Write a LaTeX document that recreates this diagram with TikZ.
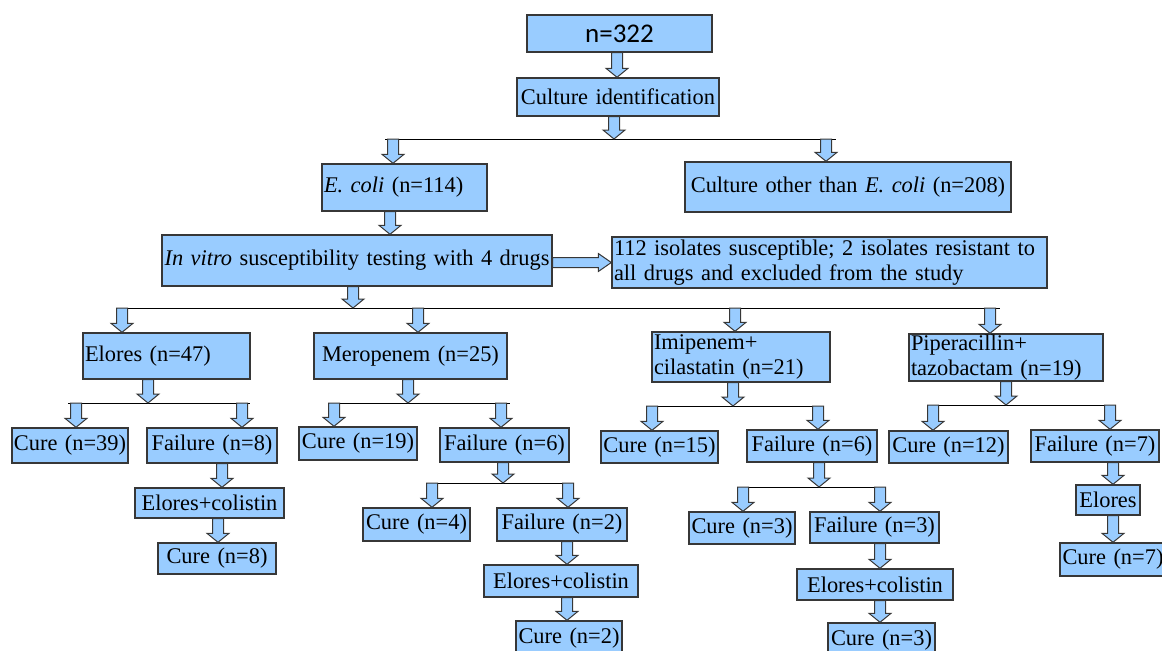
\documentclass[tikz,border=0pt]{standalone}
\usepackage{fontspec}
\setmainfont{Liberation Serif}
\newfontfamily\calibri{Carlito}
\usetikzlibrary{calc}

\definecolor{boxblue}{RGB}{153,204,255}
\definecolor{edgegray}{RGB}{55,55,55}

\tikzset{
  box/.style={draw=edgegray, fill=boxblue, line width=0.7pt, inner xsep=0pt, inner ysep=0pt,
    align=center, font=\fontsize{11.2}{12.4}\selectfont},
  leftbox/.style={box, inner xsep=1pt, align=left},
  fat/.style={draw=edgegray, fill=boxblue, line width=0.5pt},
  bar/.style={draw=black, line width=0.5pt}
}

% block arrow: x and start y from #1, tip y from #2
\newcommand{\varrow}[2]{%
  \draw[fat] let \p1=#1, \p2=#2 in
    (\x1-2.75pt,\y1) -- (\x1+2.75pt,\y1) -- (\x1+2.75pt,\y2+4.5pt) -- (\x1+5.5pt,\y2+4.5pt)
    -- (\x1,\y2) -- (\x1-5.5pt,\y2+4.5pt) -- (\x1-2.75pt,\y2+4.5pt) -- cycle;}

\begin{document}
\begin{tikzpicture}[x=0.5pt, y=-0.5pt]
  \useasboundingbox (0,0) rectangle (1162,650);

  % top of the chart
  \node[box, text width=92.5pt, minimum height=18.5pt, font=\calibri\fontsize{13.5}{15}\selectfont] (total) at (619.5,33.5) {n=322};
  \node[box, text width=101pt, minimum height=19pt] (cid) at (618,97) {Culture identification};
  \node[leftbox, text width=80.5pt, minimum height=23.5pt] (ecoli) at (404.5,187.5) {\textit{E. coli} (n=114)};
  \node[box, text width=163pt, minimum height=25pt] (other) at (848,187) {Culture other than \textit{E. coli} (n=208)};
  \node[box, text width=195pt, minimum height=25.5pt] (vitro) at (357,260.5) {\textit{In vitro} susceptibility testing with 4 drugs};
  \node[leftbox, text width=215.5pt, minimum height=25.5pt] (excl) at (829.5,262.5) {112 isolates susceptible; 2 isolates resistant to\\all drugs and excluded from the study};

  % the four drugs
  \node[leftbox, text width=81.5pt, minimum height=23pt] (elores) at (166.5,356) {Elores (n=47)};
  \node[box, text width=96.5pt, minimum height=23pt] (mero) at (410.5,356) {Meropenem (n=25)};
  \node[leftbox, text width=87pt, minimum height=25pt] (imi) at (741,357) {Imipenem+\\cilastatin (n=21)};
  \node[leftbox, text width=95pt, minimum height=23.5pt] (pip) at (1006,357.5) {Piperacillin+\\tazobactam (n=19)};

  % Elores branch
  \node[box, text width=58pt, minimum height=17.5pt] (cureA) at (70,445.5) {Cure (n=39)};
  \node[box, text width=65pt, minimum height=17.5pt] (failA) at (212,445.5) {Failure (n=8)};
  \node[box, text width=74.5pt, minimum height=15pt] (comboA) at (209.5,503) {Elores+colistin};
  \node[box, text width=59pt, minimum height=15.5pt] (cureAA) at (217,558.5) {Cure (n=8)};

  % Meropenem branch
  \node[box, text width=59pt, minimum height=16.5pt] (cureB) at (358,443.5) {Cure (n=19)};
  \node[box, text width=64.5pt, minimum height=17pt] (failB) at (504.5,445) {Failure (n=6)};
  \node[box, text width=53.5pt, minimum height=16.5pt] (cureBB) at (416.5,524.5) {Cure (n=4)};
  \node[box, text width=65pt, minimum height=16.5pt] (failBB) at (562,524.5) {Failure (n=2)};
  \node[box, text width=77pt, minimum height=16pt] (comboB) at (561,581) {Elores+colistin};
  \node[box, text width=53pt, minimum height=17pt] (cureBBB) at (569,638) {Cure (n=2)};

  % Imipenem branch
  \node[box, text width=58.5pt, minimum height=16pt] (cureC) at (659.5,447) {Cure (n=15)};
  \node[box, text width=65pt, minimum height=16pt] (failC) at (812,446) {Failure (n=6)};
  \node[box, text width=53pt, minimum height=16pt] (cureCC) at (742,528) {Cure (n=3)};
  \node[box, text width=64.5pt, minimum height=15.5pt] (failCC) at (874.5,527.5) {Failure (n=3)};
  \node[box, text width=78pt, minimum height=15.5pt] (comboC) at (875,584.5) {Elores+colistin};
  \node[box, text width=53.5pt, minimum height=17pt] (cureCCC) at (881.5,640) {Cure (n=3)};

  % Piperacillin branch
  \node[box, text width=59.5pt, minimum height=16pt] (cureD) at (948.5,447) {Cure (n=12)};
  \node[box, text width=64pt, minimum height=16pt] (failD) at (1095,446) {Failure (n=7)};
  \node[box, text width=32pt, minimum height=15pt] (eloD) at (1108,500) {Elores};
  \node[box, text width=53pt, minimum height=16.5pt] (cureDD) at (1113,559.5) {Cure (n=7)};

  % junctions on the bars
  \coordinate (j0) at (614,139);  \coordinate (d0a) at (393,139); \coordinate (d0b) at (826,139);
  \coordinate (j1) at (353,308);
  \coordinate (d1a) at (122,308); \coordinate (d1b) at (418,308); \coordinate (d1c) at (735,308); \coordinate (d1d) at (990,308);
  \coordinate (jA) at (148,403);  \coordinate (dAa) at (76,403);  \coordinate (dAb) at (242,403);
  \coordinate (jB) at (408,403);  \coordinate (dBa) at (334,403); \coordinate (dBb) at (501,403);
  \coordinate (jC) at (733,406);  \coordinate (dCa) at (652,406); \coordinate (dCb) at (818,406);
  \coordinate (jD) at (1006,405); \coordinate (dDa) at (933,405); \coordinate (dDb) at (1110,405);
  \coordinate (jBB) at (503,483); \coordinate (dBBa) at (432,483); \coordinate (dBBb) at (568,483);
  \coordinate (jCC) at (819,487); \coordinate (dCCa) at (743,487); \coordinate (dCCb) at (880,487);

  % bars
  \draw[bar] ([xshift=-4pt]d0a) -- ([xshift=5pt]d0b);
  \draw[bar] ([xshift=-2pt]d1a) -- ([xshift=5pt]d1d);
  \draw[bar] ([xshift=-4pt]dAa) -- ([xshift=4pt]dAb);
  \draw[bar] ([xshift=-2pt]dBa) -- ([xshift=4.5pt]dBb);
  \draw[bar] ([xshift=-1pt]dCa) -- ([xshift=1pt]dCb);
  \draw[bar] ([xshift=-1.5pt]dDa) -- ([xshift=1pt]dDb);
  \draw[bar] ([xshift=-1pt]dBBa) -- ([xshift=2.5pt]dBBb);
  \draw[bar] ([xshift=-1.5pt]dCCa) -- ([xshift=2pt]dCCb);

  % block arrows
  \varrow{([xshift=-1.25pt]total.south)}{(cid.north)}
  \varrow{(j0 |- cid.south)}{(j0)}
  \varrow{(d0a)}{(d0a |- ecoli.north)}
  \varrow{(d0b)}{(d0b |- other.north)}
  \varrow{([xshift=-7.25pt]ecoli.south)}{(vitro.north)}
  \varrow{(j1 |- vitro.south)}{(j1)}
  \draw[fat] let \p1=(vitro.east), \p2=(excl.west) in
    (\x1,\y2+2.5pt) -- (\x2-6.5pt,\y2+2.5pt) -- (\x2-6.5pt,\y2+4.5pt) -- (\x2,\y2)
    -- (\x2-6.5pt,\y2-4.5pt) -- (\x2-6.5pt,\y2-2.5pt) -- (\x1,\y2-2.5pt) -- cycle;
  \varrow{(d1a)}{(d1a |- elores.north)}
  \varrow{(d1b)}{(d1b |- mero.north)}
  \varrow{(d1c)}{(d1c |- imi.north)}
  \varrow{(d1d)}{(d1d |- pip.north)}

  \varrow{(jA |- elores.south)}{(jA)}
  \varrow{(dAa)}{(dAa |- cureA.north)}
  \varrow{(dAb)}{(dAb |- failA.north)}
  \varrow{([xshift=5pt]failA.south)}{(comboA.north)}
  \varrow{([xshift=4.25pt]comboA.south)}{(cureAA.north)}

  \varrow{(jB |- mero.south)}{(jB)}
  \varrow{(dBa)}{(dBa |- cureB.north)}
  \varrow{(dBb)}{(dBb |- failB.north)}
  \varrow{(jBB |- failB.south)}{(jBB)}
  \varrow{(dBBa)}{(dBBa |- cureBB.north)}
  \varrow{(dBBb)}{(dBBb |- failBB.north)}
  \varrow{([xshift=2.5pt]failBB.south)}{(comboB.north)}
  \varrow{([xshift=3pt]comboB.south)}{(cureBBB.north)}

  \varrow{(jC |- imi.south)}{(jC)}
  \varrow{(dCa)}{(dCa |- cureC.north)}
  \varrow{(dCb)}{(dCb |- failC.north)}
  \varrow{(jCC |- failC.south)}{(jCC)}
  \varrow{(dCCa)}{(dCCa |- cureCC.north)}
  \varrow{(dCCb)}{(dCCb |- failCC.north)}
  \varrow{([xshift=2.75pt]failCC.south)}{(comboC.north)}
  \varrow{([xshift=2.5pt]comboC.south)}{(cureCCC.north)}

  \varrow{(jD |- pip.south)}{(jD)}
  \varrow{(dDa)}{(dDa |- cureD.north)}
  \varrow{(dDb)}{(dDb |- failD.north)}
  \varrow{([xshift=9pt]failD.south)}{(eloD.north)}
  \varrow{([xshift=2.5pt]eloD.south)}{(cureDD.north)}
\end{tikzpicture}
\end{document}
